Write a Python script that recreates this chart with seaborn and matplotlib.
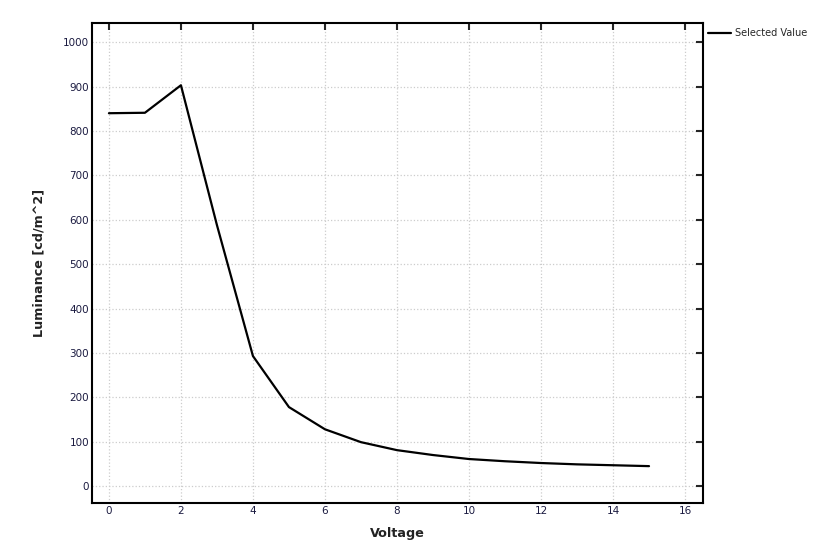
import pandas as pd
import matplotlib
matplotlib.use('Agg')
import matplotlib.pyplot as plt
import seaborn as sns

# values
voltage = [0, 1, 2, 3, 4, 5, 6, 7, 8, 9, 10, 11, 12, 13, 14, 15]
luminance = [840, 841, 903, 588, 293, 178, 128, 99, 81, 70, 61, 56, 52, 49, 47, 45]
series_name = 'Selected Value'
x_ticks = [0, 2, 4, 6, 8, 10, 12, 14, 16]
y_ticks = [0, 100, 200, 300, 400, 500, 600, 700, 800, 900, 1000]

df = pd.DataFrame({'Voltage': voltage, 'Luminance': luminance, 'series': series_name})

sns.set_style('white')
plt.rcParams['font.family'] = ['DejaVu Sans']

fig = plt.figure(figsize=(8.31, 5.5), dpi=100)
ax = fig.add_axes([0.1107, 0.0855, 0.7353, 0.8725])

sns.lineplot(data=df, x='Voltage', y='Luminance', hue='series', palette=['black'],
             linewidth=1.6, ax=ax)

ax.set_xlim(-0.47, 16.5)
ax.set_ylim(-38, 1043)
ax.set_xticks(x_ticks)
ax.set_yticks(y_ticks)
ax.grid(True, color='#cccccc', linestyle=':', linewidth=0.9)
ax.tick_params(direction='in', length=5, width=1.5, top=True, right=True,
               labelsize=7.5, labelcolor='#1a1a40', pad=2)
for s in ax.spines.values():
    s.set_linewidth(1.5)
    s.set_color('black')

ax.set_xlabel('Voltage', fontsize=9.2, fontweight='bold', labelpad=8, color='#222222')
ax.set_ylabel('Luminance [cd/m^2]', fontsize=9.2, fontweight='bold', labelpad=13, color='#222222')

ax.legend(loc='upper left', bbox_to_anchor=(1.0, 1.0), frameon=False, fontsize=7,
          handlelength=2.3, handletextpad=0.4, borderaxespad=0.35, borderpad=0.2)

fig.savefig('out.png', dpi=100)
